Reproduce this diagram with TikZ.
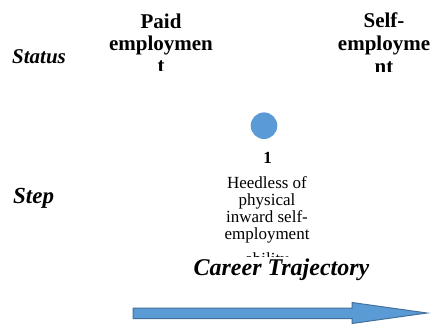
\documentclass[tikz,border=0pt]{standalone}
\usepackage{fontspec}
\setmainfont{Liberation Serif}
\definecolor{dotblue}{HTML}{5B9BD5}
\definecolor{arrowedge}{HTML}{41719C}
\begin{document}
\begin{tikzpicture}[x=1pt,y=-1pt,
  hdr/.style={font=\fontsize{21}{23}\selectfont\bfseries, inner sep=0, anchor=base},
  lbl/.style={font=\fontsize{21}{24}\selectfont\bfseries\itshape, inner sep=0, anchor=base west},
  body/.style={font=\fontsize{17}{18}\selectfont, inner sep=0, anchor=base}]
\useasboundingbox (0,0) rectangle (436,325);
% row labels
\node[lbl] (status) at (12,63) {Status};
\node[lbl, font=\fontsize{23}{26}\selectfont\bfseries\itshape] (step) at (13,203) {Step};
% column header: paid employment
\begin{scope}
  \clip (90,0) rectangle (240,70);
  \node[hdr] (paid1) at (161,28) {Paid};
  \node[hdr] (paid2) at (161,50) {employmen};
  \node[hdr] (paid3) at (161,72) {t};
\end{scope}
% column header: self-employment
\begin{scope}
  \clip (320,0) rectangle (436,71);
  \node[hdr] (self1) at (384,27) {Self-};
  \node[hdr] (self2) at (384,50) {employme};
  \node[hdr] (self3) at (384,73) {nt};
\end{scope}
% step marker
\node[circle, fill=dotblue, minimum size=26.6pt, inner sep=0] (dot) at (264,125.7) {};
\node[body, font=\fontsize{17}{18}\selectfont\bfseries] (num) at (267.5,163) {1};
\begin{scope}
  \clip (200,165) rectangle (340,256);
  \node[body] (t1) at (267,188) {Heedless of};
  \node[body] (t2) at (267,205) {physical};
  \node[body] (t3) at (267,222) {inward self-};
  \node[body] (t4) at (267,239) {employment};
  \node[body] (t5) at (267,264) {ability};
\end{scope}
% trajectory
\node[font=\fontsize{24}{28}\selectfont\bfseries\itshape, inner sep=0, anchor=base] (career) at (281.5,275) {Career Trajectory};
\draw[fill=dotblue, draw=arrowedge, line width=1pt, line join=miter]
  (133,308) -- (352,308) -- (352,302.5) -- (427,313) -- (352,323.5) -- (352,318.5) -- (133,318.5) -- cycle;
\end{tikzpicture}
\end{document}
